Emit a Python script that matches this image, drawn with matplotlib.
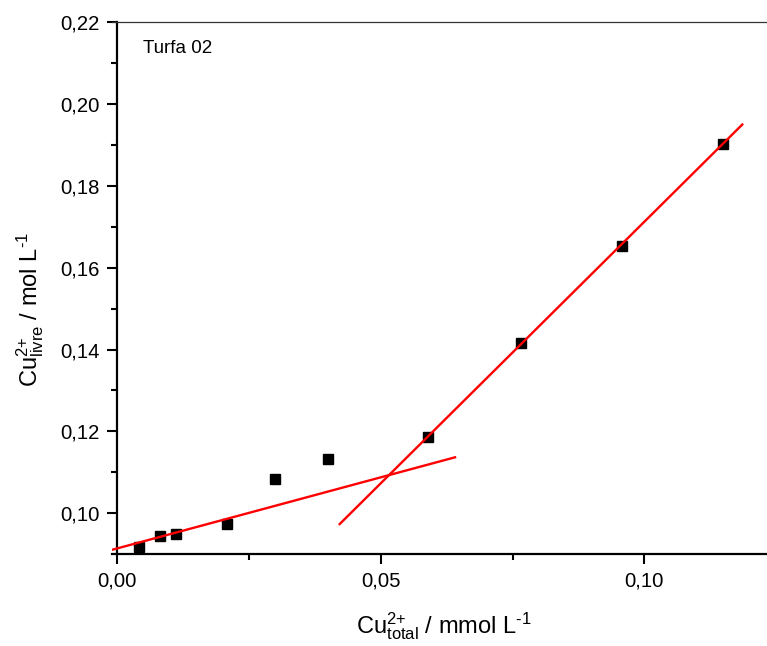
import matplotlib
matplotlib.use("Agg")
import matplotlib.pyplot as plt
from matplotlib.ticker import MultipleLocator, FuncFormatter

# data
cu_total = [0.0041, 0.0081, 0.0111, 0.0209, 0.0300, 0.0400, 0.0590, 0.0766, 0.0958, 0.1149]
cu_livre = [0.0918, 0.0945, 0.0950, 0.0974, 0.1084, 0.1134, 0.1187, 0.1416, 0.1652, 0.1901]

# fitted lines (end points)
fit_low_x = [-0.00106, 0.0641]
fit_low_y = [0.0911, 0.1137]
fit_high_x = [0.0422, 0.1186]
fit_high_y = [0.0974, 0.1949]

plt.rcParams['font.family'] = ['Liberation Sans', 'DejaVu Sans']
plt.rcParams['mathtext.fontset'] = 'custom'
plt.rcParams['mathtext.rm'] = 'Liberation Sans'
plt.rcParams['mathtext.it'] = 'Liberation Sans:italic'
plt.rcParams['mathtext.bf'] = 'Liberation Sans:bold'

fig = plt.figure(figsize=(7.67, 6.46), dpi=100)
ax = fig.add_axes([112 / 767, 92 / 646, (776 - 112) / 767, (624.3 - 92) / 646])

ax.plot(cu_total, cu_livre, linestyle='none', marker='s', markersize=7.6,
        color='black', zorder=3)
ax.plot(fit_low_x, fit_low_y, color='red', lw=1.7, zorder=4)
ax.plot(fit_high_x, fit_high_y, color='red', lw=1.7, zorder=4)

ax.set_xlim(-0.001, 0.125)
ax.set_ylim(0.0901, 0.22)

ax.spines['left'].set_position(('data', 0))
ax.spines['right'].set_visible(False)
ax.spines['left'].set_linewidth(1.6)
ax.spines['bottom'].set_linewidth(1.6)
ax.spines['top'].set_linewidth(0.9)
ax.spines['top'].set_color('#333333')

ax.xaxis.set_major_locator(MultipleLocator(0.05))
ax.xaxis.set_minor_locator(MultipleLocator(0.025))
ax.yaxis.set_major_locator(MultipleLocator(0.02))
ax.yaxis.set_minor_locator(MultipleLocator(0.01))

fmt = FuncFormatter(lambda v, pos: f"{v:.2f}".replace('.', ','))
ax.xaxis.set_major_formatter(fmt)
ax.yaxis.set_major_formatter(fmt)

ax.tick_params(which='major', direction='out', length=7.5, width=1.5,
               labelsize=14.6, pad=5)
ax.tick_params(which='minor', direction='out', length=4.3, width=1.5)
ax.tick_params(top=False, right=False, which='both')

ax.text(0.0049, 0.2135, 'Turfa 02', fontsize=13.5, va='center', ha='left')

ax.set_xlabel(r'Cu$^{\text{2+}}_{\text{total}}$ / mmol L$^{\text{-1}}$', fontsize=17)
ax.set_ylabel(r'Cu$^{\text{2+}}_{\text{livre}}$ / mol L$^{\text{-1}}$', fontsize=17)
ax.xaxis.set_label_coords(0.5, -0.105)
ax.yaxis.set_label_coords(-0.1, 0.46)

fig.savefig('out.png', dpi=100)
